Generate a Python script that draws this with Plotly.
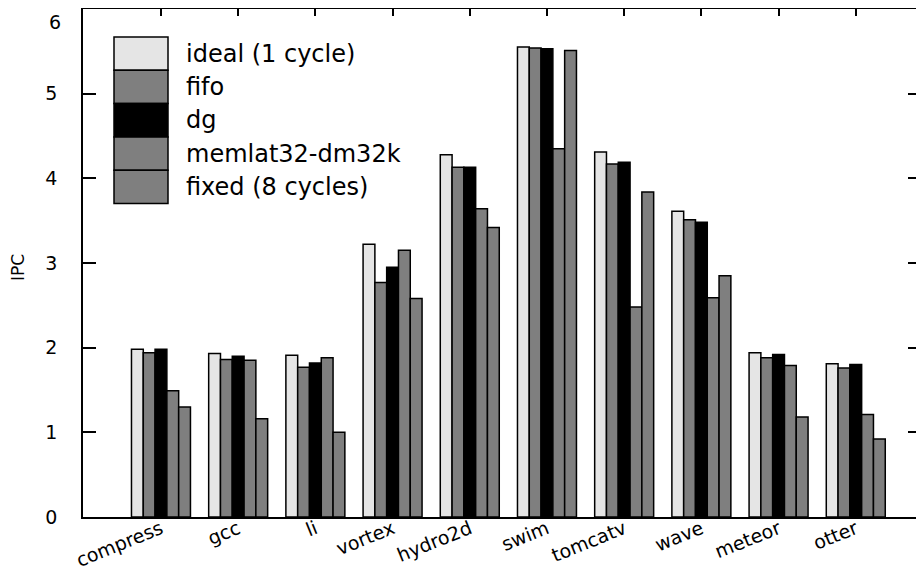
import plotly.graph_objects as go

benchmarks = ["compress", "gcc", "li", "vortex", "hydro2d", "swim", "tomcatv", "wave", "meteor", "otter"]
series_names = ["ideal (1 cycle)", "fifo", "dg", "memlat32-dm32k", "fixed (8 cycles)"]
ideal = [1.98, 1.93, 1.91, 3.22, 4.28, 5.55, 4.31, 3.61, 1.94, 1.81]
fifo = [1.94, 1.86, 1.77, 2.77, 4.13, 5.54, 4.17, 3.51, 1.88, 1.76]
dg = [1.98, 1.90, 1.82, 2.95, 4.13, 5.53, 4.19, 3.48, 1.92, 1.80]
memlat = [1.49, 1.85, 1.88, 3.15, 3.64, 4.35, 2.48, 2.59, 1.79, 1.21]
fixed8 = [1.30, 1.16, 1.00, 2.58, 3.42, 5.51, 3.84, 2.85, 1.18, 0.92]
y_ticks = [0, 1, 2, 3, 4, 5, 6]

series_values = [ideal, fifo, dg, memlat, fixed8]
colors = ["#e5e5e5", "#7f7f7f", "#000000", "#7f7f7f", "#7f7f7f"]

FONT = "DejaVu Sans"
# the page body has an 8px default margin, so the figure is drawn 8px in
OFF = 8
W, H = 924 - OFF, 580 - OFF
L, R, T, B = 83 - OFF, 921 - OFF, 9 - OFF, 517 - OFF

xs = list(range(len(benchmarks)))
fig = go.Figure()
for name, vals, col in zip(series_names, series_values, colors):
    fig.add_trace(go.Bar(
        x=xs, y=vals, name=name,
        marker=dict(color=col, line=dict(color="black", width=1.5)),
        showlegend=False,
    ))

def px_x(p):
    return (p - OFF - L) / (R - L)

def px_y(p):
    return (B - (p - OFF)) / (B - T)

shapes = []
annotations = []
box_l, box_r, top0, row_h = 114, 168, 37, 33.3
for i, (name, col) in enumerate(zip(series_names, colors)):
    y0 = top0 + i * row_h
    y1 = y0 + row_h
    shapes.append(dict(type="rect", xref="paper", yref="paper",
                       x0=px_x(box_l), x1=px_x(box_r), y0=px_y(y1), y1=px_y(y0),
                       fillcolor=col, line=dict(color="black", width=1.5), layer="above"))
    annotations.append(dict(xref="paper", yref="paper", x=px_x(184), y=px_y((y0 + y1) / 2),
                            text=name, showarrow=False, xanchor="left", yanchor="middle",
                            font=dict(family=FONT, size=24, color="black")))

annotations.append(dict(xref="paper", yref="paper", x=px_x(18), y=px_y(268),
                        text="IPC", textangle=-90, showarrow=False,
                        xanchor="center", yanchor="middle",
                        font=dict(family=FONT, size=17, color="black")))

# top tick label ("6") would be clipped at the figure edge: place it just inside
top_label = str(y_ticks[-1])
tick_text = [str(v) for v in y_ticks[:-1]] + [""]
annotations.append(dict(xref="paper", yref="y", x=px_x(55), y=y_ticks[-1],
                        text=top_label, showarrow=False, xanchor="center", yanchor="top",
                        yshift=0, font=dict(family=FONT, size=19, color="black")))

fig.update_layout(
    width=W, height=H,
    margin=dict(l=L, r=W - R, t=T, b=H - B, pad=0, autoexpand=False),
    paper_bgcolor="white", plot_bgcolor="white",
    barmode="group", bargap=0.236, bargroupgap=0.0,
    shapes=shapes, annotations=annotations,
    font=dict(family=FONT, color="black"),
)
fig.update_xaxes(
    range=[-1.01, 9.845], automargin=False,
    tickmode="array", tickvals=xs, ticktext=benchmarks,
    tickangle=-22, tickfont=dict(family=FONT, size=19, color="black"),
    ticks="inside", ticklen=7, tickwidth=1.5, tickcolor="black",
    ticklabelstandoff=-8,
    showline=True, linecolor="black", linewidth=1.5, mirror="ticks",
    showgrid=False, zeroline=False,
)
fig.update_yaxes(
    range=[0, 6], automargin=False,
    tickmode="array", tickvals=y_ticks, ticktext=tick_text,
    tickfont=dict(family=FONT, size=19, color="black"),
    ticks="inside", ticklen=13, tickwidth=1.5, tickcolor="black",
    ticklabelstandoff=20,
    showline=True, linecolor="black", linewidth=1.5, mirror="ticks",
    showgrid=False, zeroline=False,
)

fig.write_html("out.html")
